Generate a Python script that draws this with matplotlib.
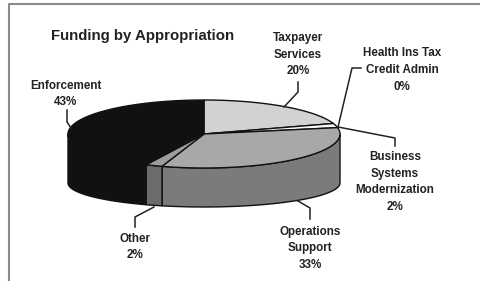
import numpy as np
import matplotlib
matplotlib.use('Agg')
import matplotlib.pyplot as plt
from matplotlib.patches import Polygon

# slice data, clockwise from 12 o'clock
names = ['Taxpayer\nServices', 'Health Ins Tax\nCredit Admin', 'Business\nSystems\nModernization',
         'Operations\nSupport', 'Other', 'Enforcement']
shares = [20, 0, 2, 33, 2, 43]
top_colors = ['#d2d2d2', '#f6f6f6', '#f6f6f6', '#a8a8a8', '#9c9c9c', '#111111']
side_colors = ['#a0a0a0', '#d8d8d8', '#d8d8d8', '#7b7b7b', '#6c6c6c', '#111111']

# label positions (text centre) and leader paths, pixels
label_xy = [(298, 55), (402, 70), (395, 182), (310, 248), (135, 247), (66, 94)]
leaders = [
    [(298, 82), (298, 92), (284, 107)],
    [(361, 68), (352, 68), (338, 127)],
    [(338, 127), (395, 138), (395, 146)],
    [(298, 201), (310, 208), (310, 219)],
    [(154, 207), (135, 217), (135, 227)],
    [(67, 110), (67, 122), (71, 128)],
]

cx, cy, rx, ry = 204, 134, 136, 34
cyb, ryb = 183, 24

def top_pt(t):
    return cx + rx * np.cos(t), cy - ry * np.sin(t)

def bot_pt(t):
    return cx + rx * np.cos(t), cyb - ryb * np.sin(t)

fig = plt.figure(figsize=(4.8, 2.81), dpi=100)
ax = fig.add_axes([0, 0, 1, 1])
ax.set_xlim(0, 480)
ax.set_ylim(281, 0)
ax.axis('off')

# frame (cut off at right and bottom)
ax.plot([9, 9, 490], [290, 4, 4], color='#8a8a8a', lw=1.5)

total = float(sum(shares))
bounds = []
a = 90.0
for s in shares:
    b = a - 360.0 * s / total
    bounds.append((b, a))
    a = b

# side faces (front half only)
for (lo, hi), col in zip(bounds, side_colors):
    l, h = max(lo, -180), min(hi, 0)
    if h - l <= 0:
        continue
    t = np.radians(np.linspace(l, h, 60))
    xs, ys = top_pt(t)
    xb, yb = bot_pt(t[::-1])
    pts = np.column_stack([np.r_[xs, xb], np.r_[ys, yb]])
    ax.add_patch(Polygon(pts, closed=True, facecolor=col, edgecolor='#111111', lw=1.0))

# top faces
for (lo, hi), col in zip(bounds, top_colors):
    if hi - lo <= 0:
        continue
    t = np.radians(np.linspace(lo, hi, 120))
    xs, ys = top_pt(t)
    pts = np.column_stack([np.r_[cx, xs], np.r_[cy, ys]])
    ax.add_patch(Polygon(pts, closed=True, facecolor=col, edgecolor='#111111', lw=1.0))

ax.text(143, 36, 'Funding by Appropriation', ha='center', va='center',
        fontsize=10.8, fontweight='bold', family='Liberation Sans', color='#222222')

for name, s, (x, y), path in zip(names, shares, label_xy, leaders):
    ax.text(x, y, f'{name}\n{s}%', ha='center', va='center', fontsize=8.4,
            fontweight='bold', family='Liberation Sans', color='#222222',
            linespacing=1.5)
    px, py = zip(*path)
    ax.plot(px, py, color='#222222', lw=1.1)

fig.savefig('out.png', dpi=100)
